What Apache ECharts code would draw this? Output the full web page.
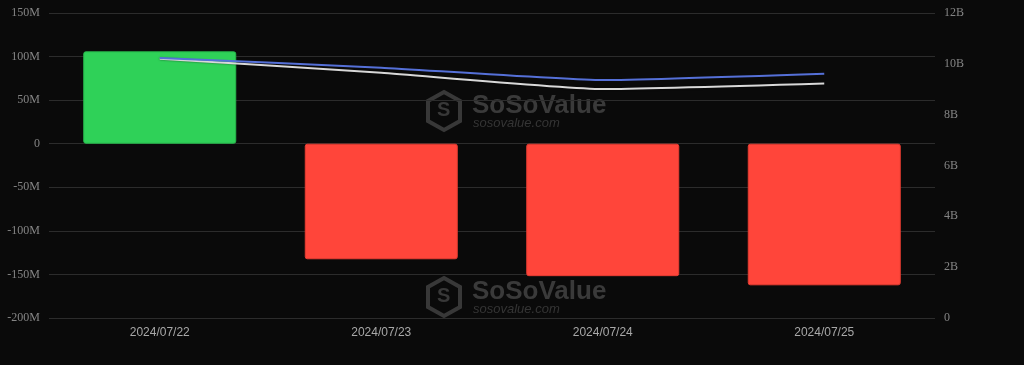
<!DOCTYPE html>
<html>
<head>
<meta charset="utf-8">
<script src="https://cdn.jsdelivr.net/npm/echarts@6/dist/echarts.min.js"></script>
<style>
html,body{margin:0;padding:0;background:#0a0a0a;}
#c{width:1024px;height:365px;}
</style>
</head>
<body>
<div id="c"></div>
<script>
// Data
const categories = ['2024/07/22', '2024/07/23', '2024/07/24', '2024/07/25'];
const netInflowM = [106, -132.6, -152, -162.5];       // millions USD (bars, left axis)
const totalNetAssetsB = [10.23, 9.85, 9.36, 9.61];    // billions USD (blue line, right axis)
const cumulativeB = [10.2, 9.65, 9.01, 9.23];         // billions USD (white line, right axis)

const chart = echarts.init(document.getElementById('c'), null, {renderer: 'canvas'});

function watermark(x, y) {
  return [
    {
      type: 'polygon', z: 0, silent: true,
      shape: {points: [[x + 16, y], [x + 32, y + 9], [x + 32, y + 29], [x + 16, y + 38], [x, y + 29], [x, y + 9]]},
      style: {fill: 'none', stroke: '#383838', lineWidth: 4}
    },
    {
      type: 'text', z: 0, silent: true, left: x + 9, top: y + 8,
      style: {text: 'S', fill: '#383838', font: 'bold 20px "Liberation Sans"'}
    },
    {
      type: 'text', z: 0, silent: true, left: x + 44, top: y + 1,
      style: {text: 'SoSoValue', fill: '#3a3a3a', font: 'bold 26px "Liberation Sans"'}
    },
    {
      type: 'text', z: 0, silent: true, left: x + 45, top: y + 25,
      style: {text: 'sosovalue.com', fill: '#353535', font: 'italic 13px "Liberation Sans"'}
    }
  ];
}

const option = {
  backgroundColor: '#0a0a0a',
  animation: false,
  graphic: [].concat(watermark(428, 92), watermark(428, 278)),
  grid: {left: 49, right: 89, top: 13, bottom: 47},
  xAxis: {
    type: 'category',
    data: categories,
    axisLine: {show: false},
    axisTick: {show: false},
    axisLabel: {color: '#a8a8a8', fontSize: 12, fontFamily: 'Liberation Sans', margin: 9}
  },
  yAxis: [
    {
      type: 'value', min: -200, max: 150, interval: 50,
      axisLine: {show: false}, axisTick: {show: false},
      splitLine: {lineStyle: {color: '#2c2c2c', width: 1}},
      axisLabel: {
        color: '#858585', fontSize: 12, fontFamily: 'Liberation Serif', margin: 9,
        formatter: v => v === 0 ? '0' : v + 'M'
      }
    },
    {
      type: 'value', min: 0, max: 12, interval: 2, position: 'right',
      axisLine: {show: false}, axisTick: {show: false},
      splitLine: {show: false},
      axisLabel: {
        color: '#858585', fontSize: 12, fontFamily: 'Liberation Serif', margin: 9,
        formatter: v => v === 0 ? '0' : v + 'B'
      }
    }
  ],
  series: [
    {
      type: 'bar', yAxisIndex: 0, barWidth: 153, z: 2,
      data: netInflowM.map(v => ({
        value: v,
        itemStyle: {
          color: v >= 0 ? '#2fd158' : '#ff453a',
          borderColor: v >= 0 ? '#27b84b' : '#e63c32',
          borderWidth: 1,
          borderRadius: 2
        }
      }))
    },
    {
      type: 'line', yAxisIndex: 1, data: cumulativeB, smooth: 0.15, symbol: 'none', z: 3,
      lineStyle: {color: '#d8d8d8', width: 2, shadowColor: 'rgba(0,0,0,0.6)', shadowBlur: 2}
    },
    {
      type: 'line', yAxisIndex: 1, data: totalNetAssetsB, smooth: 0.15, symbol: 'none', z: 4,
      lineStyle: {color: '#5570d8', width: 2}
    }
  ]
};
chart.setOption(option);
</script>
</body>
</html>
